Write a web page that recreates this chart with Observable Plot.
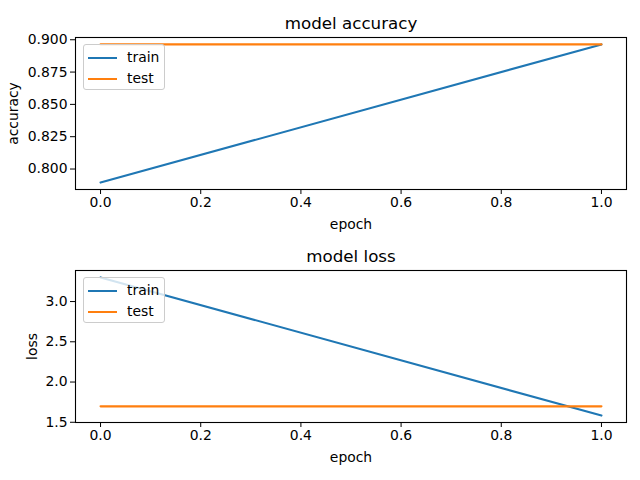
<!DOCTYPE html>
<html>
<head>
<meta charset="utf-8">
<script src="https://cdn.jsdelivr.net/npm/d3@7"></script>
<script src="https://cdn.jsdelivr.net/npm/@observablehq/plot@0.6"></script>
<style>
  html, body { margin: 0; padding: 0; background: #fff; }
  #wrap { position: relative; width: 640px; height: 480px; font-family: "DejaVu Sans", sans-serif; }
  #wrap svg { display: block; }
  .legend { position: absolute; left: 83px; width: 82px; height: 46px; border: 1px solid #cccccc; border-radius: 3px;
            background: rgba(255,255,255,0.8); font-size: 13.9px; color: #000; box-sizing: border-box; }
  .legend .row { position: absolute; left: 0; height: 20px; width: 100%; }
  .legend .sw { position: absolute; left: 4px; top: 9px; width: 29px; height: 2px; }
  .legend .lb { position: absolute; left: 43px; top: 1px; line-height: 16px; }
</style>
</head>
<body>
<div id="wrap"></div>
<script>
const epochs = [0, 1];
const trainAcc = [0.7895, 0.8964];
const testAcc = [0.8964, 0.8964];
const trainLoss = [3.30, 1.583];
const testLoss = [1.698, 1.698];
const xTicks = [0, 0.2, 0.4, 0.6, 0.8, 1.0];
const accTicks = [0.800, 0.825, 0.850, 0.875, 0.900];
const lossTicks = [1.5, 2.0, 2.5, 3.0];
const seriesNames = ["train", "test"];
const seriesColors = ["#1f77b4", "#ff7f0e"];

function rows(train, test) {
  const out = [];
  epochs.forEach((e, i) => out.push({epoch: e, value: train[i], series: "train"}));
  epochs.forEach((e, i) => out.push({epoch: e, value: test[i], series: "test"}));
  return out;
}
function pad(vals) {
  const lo = d3.min(vals), hi = d3.max(vals), m = (hi - lo) * 0.05;
  return [lo - m, hi + m];
}

function panel({title, ylabel, train, test, yTicks, yFmt, marginTop, marginBottom}) {
  const data = rows(train, test);
  return Plot.plot({
    width: 640, height: 240,
    marginLeft: 75, marginRight: 14, marginTop, marginBottom,
    style: {fontFamily: "DejaVu Sans, sans-serif", fontSize: "13.9px", color: "#000", background: "#fff"},
    x: {domain: pad(epochs)},
    y: {domain: pad([...train, ...test])},
    color: {domain: seriesNames, range: seriesColors},
    marks: [
      Plot.line(data, {x: "epoch", y: "value", z: "series", stroke: "series", strokeWidth: 2.1}),
      Plot.frame({stroke: "#000", strokeWidth: 1.1}),
      Plot.axisX({ticks: xTicks, tickFormat: d3.format(".1f"), tickSize: 5, tickPadding: 3, fontSize: 13.9,
                  label: "epoch", labelAnchor: "center", labelArrow: "none", labelOffset: 39}),
      Plot.axisY({ticks: yTicks, tickFormat: d3.format(yFmt), tickSize: 5, tickPadding: 3, fontSize: 13.9,
                  label: ylabel, labelAnchor: "center", labelArrow: "none", labelOffset: ylabel === "loss" ? 48 : 67}),
      Plot.text([title], {frameAnchor: "top", dy: -9, lineAnchor: "bottom", fontSize: 16.7, text: d => d})
    ]
  });
}

const wrap = document.getElementById("wrap");
wrap.appendChild(panel({title: "model accuracy", ylabel: "accuracy", train: trainAcc, test: testAcc,
  yTicks: accTicks, yFmt: ".3f", marginTop: 37, marginBottom: 51}));
wrap.appendChild(panel({title: "model loss", ylabel: "loss", train: trainLoss, test: testLoss,
  yTicks: lossTicks, yFmt: ".1f", marginTop: 30, marginBottom: 58}));

function legend(top) {
  const div = document.createElement("div");
  div.className = "legend";
  div.style.top = top + "px";
  seriesNames.forEach((name, i) => {
    const r = document.createElement("div");
    r.className = "row";
    r.style.top = (3 + i * 21) + "px";
    const sw = document.createElement("div");
    sw.className = "sw";
    sw.style.background = seriesColors[i];
    const lb = document.createElement("div");
    lb.className = "lb";
    lb.textContent = name;
    r.appendChild(sw); r.appendChild(lb);
    div.appendChild(r);
  });
  wrap.appendChild(div);
}
legend(44);
legend(277);
</script>
</body>
</html>
